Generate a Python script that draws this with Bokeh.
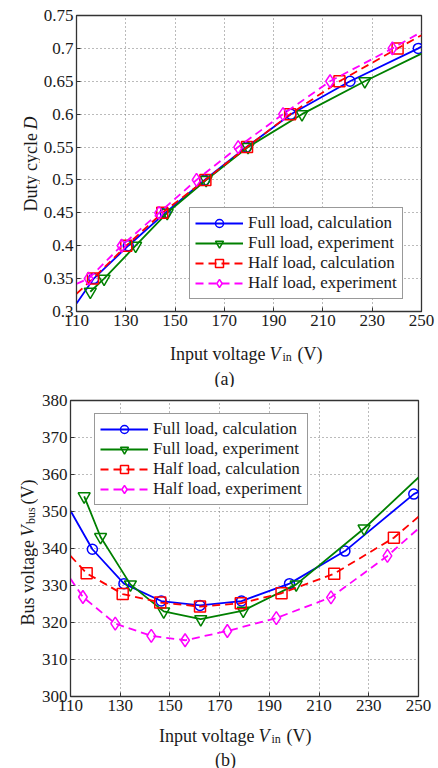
import math
from bokeh.plotting import figure
from bokeh.layouts import column, row
from bokeh.models import FixedTicker, Range1d
from bokeh.core.properties import value
from bokeh.embed import file_html
from bokeh.resources import INLINE

# ---------------- data ----------------
v_ticks = [110, 130, 150, 170, 190, 210, 230, 250]
v_tick_labels = ["110", "130", "150", "170", "190", "210", "230", "250"]
duty_ticks = [0.3, 0.35, 0.4, 0.45, 0.5, 0.55, 0.6, 0.65, 0.7, 0.75]
duty_tick_labels = ["0.3", "0.35", "0.4", "0.45", "0.5", "0.55", "0.6", "0.65", "0.7", "0.75"]
bus_ticks = [300, 310, 320, 330, 340, 350, 360, 370, 380]
bus_tick_labels = ["300", "310", "320", "330", "340", "350", "360", "370", "380"]

series_names = ["Full load, calculation", "Full load, experiment",
                "Half load, calculation", "Half load, experiment"]

# (a) duty cycle
fc_v_a = [117.0, 131.0, 146.0, 162.0, 179.0, 197.0, 221.0, 248.7]
fc_d_a = [0.35, 0.40, 0.45, 0.50, 0.55, 0.60, 0.65, 0.70]
fc_start_a, fc_end_a = (110, 0.312), (250, 0.703)

fe_v_a = [115.6, 121.2, 134.0, 146.8, 162.6, 179.6, 201.5, 227.0]
fe_d_a = [0.33, 0.35, 0.40, 0.45, 0.50, 0.55, 0.60, 0.65]
fe_start_a, fe_end_a = None, (250, 0.692)

hc_v_a = [116.7, 130.2, 144.8, 162.3, 179.2, 196.7, 216.7, 240.3]
hc_d_a = [0.35, 0.40, 0.45, 0.50, 0.55, 0.60, 0.65, 0.70]
hc_start_a, hc_end_a = (110, 0.327), (250, 0.720)

he_v_a = [114.9, 128.3, 143.5, 158.7, 175.6, 193.8, 212.9, 238.2]
he_d_a = [0.35, 0.40, 0.45, 0.50, 0.55, 0.60, 0.65, 0.70]
he_start_a, he_end_a = (110, 0.342), (250, 0.725)

# (b) bus voltage
fc_v_b = [118.8, 131.5, 146.5, 162.1, 178.8, 198.1, 220.4, 248.1]
fc_bus_b = [339.8, 330.5, 325.8, 324.6, 325.8, 330.5, 339.3, 354.7]
fc_start_b, fc_end_b = (110, 350.2), (250, 355.3)

fe_v_b = [115.5, 122.1, 134.1, 147.5, 162.4, 179.5, 200.8, 228.1]
fe_bus_b = [354.1, 343.1, 330.3, 323.0, 320.9, 323.2, 330.3, 345.4]
fe_start_b, fe_end_b = None, (250, 359.2)

hc_v_b = [116.5, 131.0, 146.1, 162.1, 178.5, 194.9, 216.1, 240.1]
hc_bus_b = [333.3, 327.7, 325.4, 324.3, 325.2, 327.9, 333.2, 342.9]
hc_start_b, hc_end_b = (110, 338.0), (250, 348.6)

he_v_b = [115.0, 128.0, 142.5, 156.1, 173.1, 192.8, 214.8, 237.5]
he_bus_b = [326.9, 319.7, 316.4, 315.2, 317.7, 321.2, 326.8, 338.0]
he_start_b, he_end_b = (110, 331.8), (250, 345.4)

# ---------------- styling ----------------
FONT = "Liberation Serif, Times New Roman, serif"
TXT = "#1a1a1a"
styles = [
    dict(color="#0000ff", marker="circle", size=10, dash="solid"),
    dict(color="#008000", marker="inverted_triangle", size=12, dash="solid"),
    dict(color="#ff0000", marker="square", size=11, dash="8 5"),
    dict(color="#ff00ff", marker="diamond", size=13, dash="8 5"),
]


def make_fig(width, height, yr, yticks, ylabels, borders):
    left, right, top, bottom = borders
    p = figure(width=width, height=height, output_backend="svg", toolbar_location=None,
               x_range=Range1d(110, 250), y_range=Range1d(*yr),
               min_border_left=left, min_border_right=right,
               min_border_top=top, min_border_bottom=bottom)
    p.background_fill_color = "white"
    p.border_fill_color = "white"
    p.outline_line_color = "#333333"
    p.outline_line_width = 1.3
    p.xaxis.ticker = FixedTicker(ticks=v_ticks)
    p.xaxis.major_label_overrides = dict(zip(v_ticks, v_tick_labels))
    p.yaxis.ticker = FixedTicker(ticks=yticks)
    p.yaxis.major_label_overrides = dict(zip(yticks, ylabels))
    for ax in (p.xaxis, p.yaxis):
        ax.major_tick_in = 4
        ax.major_tick_out = 0
        ax.minor_tick_line_color = None
        ax.axis_line_color = "#333333"
        ax.major_tick_line_color = "#333333"
        ax.major_label_text_font = FONT
        ax.major_label_text_font_size = "17px"
        ax.major_label_text_color = TXT
        ax.major_label_standoff = 3
    for g in (p.xgrid, p.ygrid):
        g.grid_line_color = "#777777"
        g.grid_line_dash = "1 3"
        g.grid_line_width = 1
    return p


def add_series(p, mv, my, start, end, name, st):
    lx = ([start[0]] if start else []) + list(mv) + [end[0]]
    ly = ([start[1]] if start else []) + list(my) + [end[1]]
    p.line(lx, ly, line_color=st["color"], line_width=1.8, line_dash=st["dash"], legend_label=name)
    p.scatter(mv, my, marker=st["marker"], size=st["size"], line_color=st["color"],
              fill_color=None, line_width=1.5, legend_label=name)


def style_legend(p, loc):
    lg = p.legend[0]
    lg.location = loc
    lg.label_text_font = FONT
    lg.label_text_font_size = "17px"
    lg.label_text_color = TXT
    lg.glyph_width = 48
    lg.glyph_height = 20
    lg.label_height = 20
    lg.label_standoff = 5
    lg.spacing = 0
    lg.padding = 5
    lg.margin = 0
    lg.border_line_color = "#333333"
    lg.border_line_width = 1.3
    lg.background_fill_alpha = 1.0


def text_fig(w, h):
    f = figure(width=w, height=h, output_backend="svg", toolbar_location=None,
               x_range=Range1d(0, w), y_range=Range1d(0, h), min_border=0,
               min_border_left=0, min_border_right=0, min_border_top=0, min_border_bottom=0,
               x_axis_location=None, y_axis_location=None)
    f.outline_line_color = None
    f.background_fill_color = "white"
    f.border_fill_color = "white"
    for g in f.grid:
        g.visible = False
    return f


def txt(f, x, y, s, size="18px", style="normal", angle=0.0, align="left"):
    f.text(x=[x], y=[y], text=[s], text_font=value(FONT), text_font_size=value(size),
           text_font_style=style, angle=angle, text_align=align,
           text_baseline="alphabetic", text_color=TXT)


def x_label(f, y, vx):
    txt(f, vx - 4, y, "Input voltage", align="right")
    txt(f, vx, y, "V", style="italic")
    txt(f, vx + 13, y - 3, "in", size="12px")
    txt(f, vx + 28, y, "(V)")


# ---------------- (a) ----------------
pa = make_fig(398, 335, (0.3, 0.75), duty_ticks, duty_tick_labels, (34, 17, 15, 24))
add_series(pa, fc_v_a, fc_d_a, fc_start_a, fc_end_a, series_names[0], styles[0])
add_series(pa, fe_v_a, fe_d_a, fe_start_a, fe_end_a, series_names[1], styles[1])
add_series(pa, hc_v_a, hc_d_a, hc_start_a, hc_end_a, series_names[2], styles[2])
add_series(pa, he_v_a, he_d_a, he_start_a, he_end_a, series_names[3], styles[3])
style_legend(pa, (113, 12))

ya = text_fig(40, 335)
txt(ya, 30, 202, "Duty cycle", angle=math.pi / 2, align="right")
txt(ya, 30, 206, "D", style="italic", angle=math.pi / 2)

xa = text_fig(438, 52)
x_label(xa, 34, 269)
txt(xa, 224, 9, "(a)", align="center")

# ---------------- (b) ----------------
pb = make_fig(400, 333, (300, 380), bus_ticks, bus_tick_labels, (30, 20, 13, 24))
add_series(pb, fc_v_b, fc_bus_b, fc_start_b, fc_end_b, series_names[0], styles[0])
add_series(pb, fe_v_b, fe_bus_b, fe_start_b, fe_end_b, series_names[1], styles[1])
add_series(pb, hc_v_b, hc_bus_b, hc_start_b, hc_end_b, series_names[2], styles[2])
add_series(pb, he_v_b, he_bus_b, he_start_b, he_end_b, series_names[3], styles[3])
style_legend(pb, (24, 191))

yb = text_fig(38, 333)
txt(yb, 27, 176, "Bus voltage", angle=math.pi / 2, align="right")
txt(yb, 27, 180, "V", style="italic", angle=math.pi / 2)
txt(yb, 30, 194, "bus", size="12px", angle=math.pi / 2)
txt(yb, 27, 216, "(V)", angle=math.pi / 2)

xb = text_fig(438, 48)
x_label(xb, 33, 258)
txt(xb, 225, 9, "(b)", align="center")

layout = column(row(ya, pa, spacing=0), xa, row(yb, pb, spacing=0), xb, spacing=0)
open("out.html", "w").write(file_html(layout, INLINE))
